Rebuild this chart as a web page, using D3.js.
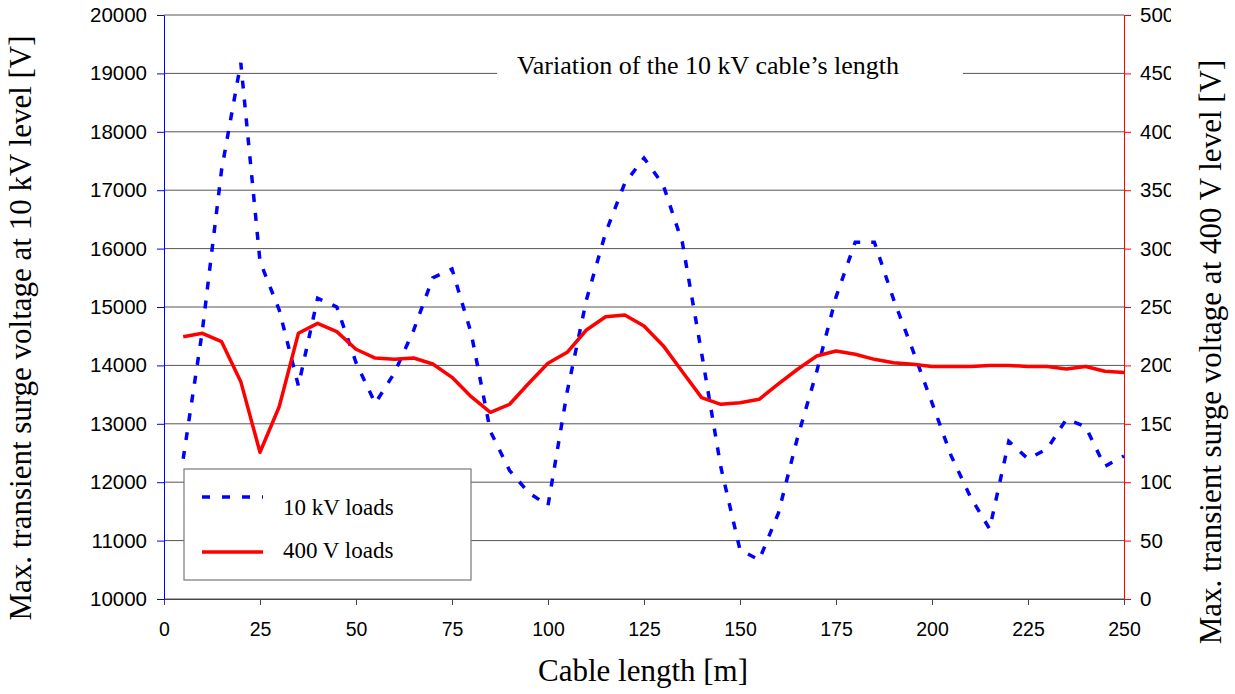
<!DOCTYPE html>
<html>
<head>
<meta charset="utf-8">
<script src="https://cdn.jsdelivr.net/npm/d3@7"></script>
<style>
body { margin: 0; background: #fff; }
</style>
</head>
<body>
<div id="chart"></div>
<script>
"use strict";

// Data (cable length in m, voltages in V)
const cableLength = [5, 10, 15, 20, 25, 30, 35, 40, 45, 50, 55, 60, 65, 70, 75, 80, 85, 90, 95, 100,
    105, 110, 115, 120, 125, 130, 135, 140, 145, 150, 155, 160, 165, 170, 175, 180, 185, 190, 195, 200,
    205, 210, 215, 220, 225, 230, 235, 240, 245, 250];
const loads10kV = [12400, 14600, 17350, 19180, 15780, 14950, 13650, 15150, 15000, 14050,
    13350, 13870, 14600, 15500, 15650, 14550, 12870, 12200, 11820, 11600,
    13550, 15120, 16270, 17120, 17550, 17090, 16100, 14210, 12260, 10840,
    10670, 11470, 12770, 13900, 15170, 16110, 16110, 15130, 14260, 13360,
    12450, 11750, 11200, 12700, 12400, 12570, 13080, 12950, 12270, 12450];
const loads400V = [224.6, 227.5, 220.3, 186.1, 125.6, 164.6, 227.5, 236, 228.9, 213.8,
    206.3, 205.2, 206.3, 201.2, 189.8, 173.2, 159.8, 166.7, 184.7, 201.8,
    211.2, 230.3, 241.7, 243.2, 233.7, 216.9, 194.6, 172.4, 166.7, 168.1,
    171, 184.1, 196.7, 208, 212.3, 209.5, 205.2, 202.3, 201, 199,
    199, 199, 200, 200, 199, 199, 197, 199, 195, 194];

const xTicks = [0, 25, 50, 75, 100, 125, 150, 175, 200, 225, 250];
const leftTicks = [10000, 11000, 12000, 13000, 14000, 15000, 16000, 17000, 18000, 19000, 20000];
const rightTicks = [0, 50, 100, 150, 200, 250, 300, 350, 400, 450, 500];
const seriesNames = ["10 kV loads", "400 V loads"];

const chartTitle = "Variation of the 10 kV cable\u2019s length";
const xTitle = "Cable length [m]";
const leftTitle = "Max. transient surge voltage at 10 kV level [V]";
const rightTitle = "Max. transient surge voltage at 400 V level [V]";


/*
 * ============================================================================
 * Chart
 * ============================================================================
 */

const WIDTH = 1235;
const HEIGHT = 694;
const LEFT = 164, RIGHT = 1124, TOP = 15, BOTTOM = 599;
const SERIF = "'Liberation Serif', 'Times New Roman', serif";
const SANS = "'Liberation Sans', Arial, sans-serif";
const TICK_FONT = 20.5;

const svg = d3.select("#chart")
  .append("svg")
    .attr("width", WIDTH)
    .attr("height", HEIGHT);

const x = d3.scaleLinear().domain([0, 250]).range([LEFT, RIGHT]);
const yLeft = d3.scaleLinear().domain([10000, 20000]).range([BOTTOM, TOP]);
const yRight = d3.scaleLinear().domain([0, 500]).range([BOTTOM, TOP]);

// Horizontal grid
svg.append("g")
  .selectAll("line")
  .data(leftTicks)
  .join("line")
    .attr("x1", LEFT)
    .attr("x2", RIGHT)
    .attr("y1", d => yLeft(d))
    .attr("y2", d => yLeft(d))
    .attr("stroke", "#555")
    .attr("stroke-width", 1);

// Title, with white backing that breaks the grid line
svg.append("rect")
    .attr("x", 497)
    .attr("y", 54)
    .attr("width", 466)
    .attr("height", 30)
    .attr("fill", "#fff");

svg.append("text")
    .attr("x", 708)
    .attr("y", 74)
    .attr("text-anchor", "middle")
    .attr("font-family", SERIF)
    .attr("font-size", 26)
    .text(chartTitle);

// Bottom axis
const xAxis = svg.append("g")
    .attr("transform", `translate(0,${BOTTOM})`)
    .call(d3.axisBottom(x).tickValues(xTicks).tickSize(6).tickPadding(17).tickSizeOuter(0));
xAxis.select(".domain").attr("stroke", "#444");
xAxis.selectAll(".tick line").attr("stroke", "#444");
xAxis.selectAll("text")
    .attr("font-family", SANS)
    .attr("font-size", 19.5)
    .attr("fill", "#000");

// Left axis (blue)
const leftAxis = svg.append("g")
    .attr("transform", `translate(${LEFT},0)`)
    .call(d3.axisLeft(yLeft).tickValues(leftTicks).tickFormat(d3.format("d"))
        .tickSize(7).tickPadding(10).tickSizeOuter(0));
leftAxis.select(".domain").attr("stroke", "#0000ff");
leftAxis.selectAll(".tick line").attr("stroke", "#0000ff");
leftAxis.selectAll("text")
    .attr("font-family", SANS)
    .attr("font-size", TICK_FONT)
    .attr("fill", "#000");

// Right axis (red), labels clipped at the page edge as in the source
svg.append("clipPath")
    .attr("id", "right-clip")
  .append("rect")
    .attr("x", -10)
    .attr("y", 0)
    .attr("width", 1171 - RIGHT + 10)
    .attr("height", HEIGHT);

const rightAxis = svg.append("g")
    .attr("transform", `translate(${RIGHT},0)`)
    .attr("clip-path", "url(#right-clip)")
    .call(d3.axisRight(yRight).tickValues(rightTicks).tickSize(7).tickPadding(9).tickSizeOuter(0));
rightAxis.select(".domain").attr("stroke", "#ff0000");
rightAxis.selectAll(".tick line").attr("stroke", "#ff0000");
rightAxis.selectAll("text")
    .attr("font-family", SANS)
    .attr("font-size", TICK_FONT)
    .attr("fill", "#000");

// Series
const line10kV = d3.line()
    .x((d, i) => x(cableLength[i]))
    .y(d => yLeft(d));

const line400V = d3.line()
    .x((d, i) => x(cableLength[i]))
    .y(d => yRight(d));

svg.append("path")
    .datum(loads10kV)
    .attr("d", line10kV)
    .attr("fill", "none")
    .attr("stroke", "#0000ff")
    .attr("stroke-width", 3.5)
    .attr("stroke-dasharray", "8,11");

svg.append("path")
    .datum(loads400V)
    .attr("d", line400V)
    .attr("fill", "none")
    .attr("stroke", "#ff0000")
    .attr("stroke-width", 3.5)
    .attr("stroke-linejoin", "round");

// Legend
const legend = svg.append("g")
    .attr("transform", "translate(184,469)");

legend.append("rect")
    .attr("width", 287)
    .attr("height", 111)
    .attr("fill", "#fff")
    .attr("stroke", "#777")
    .attr("stroke-width", 1.2);

const legendRows = [
    { color: "#0000ff", dash: "8,12", lineY: 28, textY: 46 },
    { color: "#ff0000", dash: null, lineY: 83, textY: 89 },
];

seriesNames.forEach((name, i) => {
    const row = legendRows[i];
    legend.append("line")
        .attr("x1", 18)
        .attr("x2", 79)
        .attr("y1", row.lineY)
        .attr("y2", row.lineY)
        .attr("stroke", row.color)
        .attr("stroke-width", 3.5)
        .attr("stroke-dasharray", row.dash);
    legend.append("text")
        .attr("x", 99)
        .attr("y", row.textY)
        .attr("font-family", SERIF)
        .attr("font-size", 23)
        .text(name);
});

// Axis titles
svg.append("text")
    .attr("transform", "translate(31,328) rotate(-90)")
    .attr("text-anchor", "middle")
    .attr("font-family", SERIF)
    .attr("font-size", 31)
    .text(leftTitle);

svg.append("text")
    .attr("transform", "translate(1221,352) rotate(-90)")
    .attr("text-anchor", "middle")
    .attr("font-family", SERIF)
    .attr("font-size", 31)
    .text(rightTitle);

svg.append("text")
    .attr("x", 643)
    .attr("y", 681)
    .attr("text-anchor", "middle")
    .attr("font-family", SERIF)
    .attr("font-size", 31)
    .text(xTitle);
</script>
</body>
</html>
